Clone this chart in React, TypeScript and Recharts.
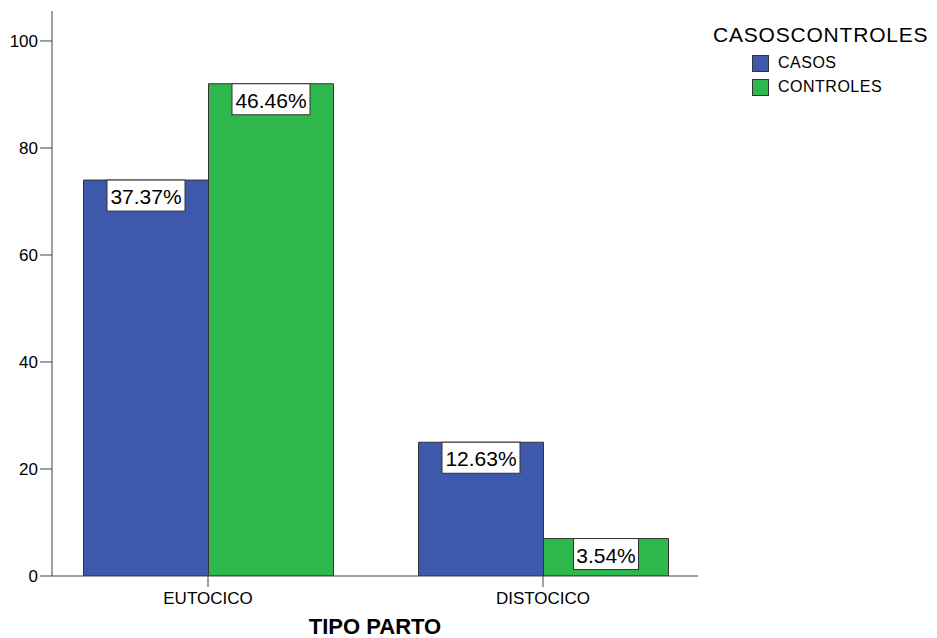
import { BarChart, Bar, XAxis, YAxis, Legend, LabelList } from "recharts";

const categories = ["EUTOCICO", "DISTOCICO"];
const casos = [74, 25];
const controles = [92, 7];
const casosPct = ["37.37%", "12.63%"];
const controlesPct = ["46.46%", "3.54%"];
const yTicks = [0, 20, 40, 60, 80, 100];

const BLUE = "#3e58ab";
const GREEN = "#2eb84b";
const AXIS = "#444";

const data = categories.map((name, i) => ({
  name,
  casos: casos[i],
  controles: controles[i],
  casosPct: casosPct[i],
  controlesPct: controlesPct[i],
}));

// white boxed percentage at the top of each bar
const BoxLabel = (props: any) => {
  const { x, y, width, value } = props;
  const cx = x + width / 2;
  const w = String(value).length * 13;
  return (
    <g>
      <rect x={cx - w / 2} y={y} width={w} height={31} fill="#fff" stroke="#333" strokeWidth={1} />
      <text x={cx} y={y + 24} textAnchor="middle" fontSize={21} fill="#000">
        {value}
      </text>
    </g>
  );
};

const LegendBox = () => (
  <div style={{ fontFamily: "'Liberation Sans', Arial, sans-serif", color: "#000", whiteSpace: "nowrap" }}>
    <div style={{ fontSize: 21, letterSpacing: 0.8, lineHeight: "24px", marginBottom: 4 }}>CASOSCONTROLES</div>
    {[
      { label: "CASOS", color: BLUE },
      { label: "CONTROLES", color: GREEN },
    ].map((it) => (
      <div key={it.label} style={{ display: "flex", alignItems: "center", marginLeft: 39, height: 24 }}>
        <span
          style={{
            width: 15,
            height: 15,
            background: it.color,
            border: "1px solid #333",
            marginRight: 9,
            display: "inline-block",
          }}
        />
        <span style={{ fontSize: 16, letterSpacing: 0.5 }}>{it.label}</span>
      </div>
    ))}
  </div>
);

export default function App() {
  return (
    <div style={{ fontFamily: "'Liberation Sans', Arial, sans-serif" }}>
      <BarChart
        width={929}
        height={630}
        data={data}
        margin={{ top: 3, right: 9, bottom: 0, left: 0 }}
        barCategoryGap={43}
        barGap={0}
      >
        <XAxis
          dataKey="name"
          height={62}
          padding={{ left: -11.5, right: -12.5 }}
          stroke={AXIS}
          tickSize={11}
          tickMargin={5}
          tick={{ fontSize: 17, fill: "#000" }}
          label={{
            value: "TIPO PARTO",
            position: "insideBottom",
            offset: 4,
            style: { fontSize: 22, fontWeight: "bold", fill: "#000" },
          }}
        />
        <YAxis
          width={44}
          domain={[0, 105.6]}
          ticks={yTicks}
          stroke={AXIS}
          tickSize={12}
          tickMargin={2}
          tick={{ fontSize: 17, fill: "#000" }}
          allowDataOverflow
        />
        <Legend
          layout="vertical"
          verticalAlign="top"
          align="right"
          width={230}
          content={<LegendBox />}
          wrapperStyle={{ top: 15, left: 705 }}
        />
        <Bar dataKey="casos" fill={BLUE} stroke="#333" strokeWidth={1} isAnimationActive={false}>
          <LabelList dataKey="casosPct" content={<BoxLabel />} />
        </Bar>
        <Bar dataKey="controles" fill={GREEN} stroke="#333" strokeWidth={1} isAnimationActive={false}>
          <LabelList dataKey="controlesPct" content={<BoxLabel />} />
        </Bar>
      </BarChart>
    </div>
  );
}
